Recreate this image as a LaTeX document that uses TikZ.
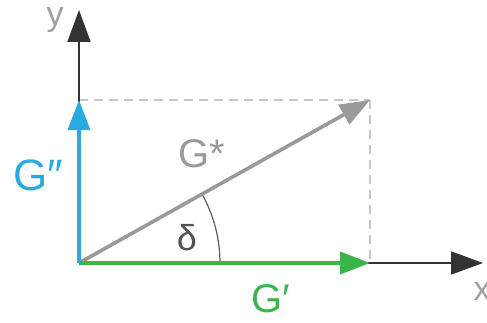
\documentclass[tikz,border=0pt]{standalone}
\usepackage{fontspec}
\setmainfont{Liberation Sans}
\usetikzlibrary{arrows.meta}
\definecolor{axisc}{HTML}{333333}
\definecolor{gblue}{HTML}{29ABE2}
\definecolor{ggreen}{HTML}{3AB54A}
\definecolor{ggray}{HTML}{9A9A9A}
\definecolor{dashc}{HTML}{C8C8C8}
\definecolor{lblgray}{HTML}{A0A0A0}
\tikzset{
  axisline/.style={draw=axisc, line width=1.8pt, -{Triangle[length=32pt,width=23pt]}},
  vec/.style={line width=3.6pt, -{Triangle[length=30pt,width=22pt]}},
  guide/.style={draw=dashc, line width=1.5pt, dash pattern=on 9pt off 6pt},
  biglabel/.style={inner sep=0pt, anchor=base, font=\fontsize{40}{48}\selectfont},
  axlabel/.style={inner sep=0pt, anchor=base, text=lblgray, font=\fontsize{34}{40}\selectfont},
}
\begin{document}
\begin{tikzpicture}[x=1pt,y=1pt]
\useasboundingbox (0,0) rectangle (487,322);
\coordinate (O) at (79,59);
\coordinate (Ytip) at (79,312);
\coordinate (Xtip) at (483,59);
\coordinate (Gs) at (370,222);
\coordinate (Gp) at (370,59);
\coordinate (Gpp) at (79,222);
% guides
\draw[guide] (Gpp) -- (Gs);
\draw[guide] (Gs) -- (Gp);
% axes
\draw[axisline] (O) -- (Ytip);
\draw[axisline] (O) -- (Xtip);
% angle arc
\draw[draw=axisc!80, line width=1.2pt] (O) ++(141,0) arc[start angle=0, end angle=29.25, radius=141];
% vectors
\draw[vec, draw=ggray, fill=ggray] (O) -- (Gs);
\draw[vec, draw=ggreen, fill=ggreen, line width=4pt] (O) -- (Gp);
\draw[vec, draw=gblue, fill=gblue, line width=3.3pt] (O) -- (Gpp);
% labels
\node[biglabel, text=gblue, font=\fontsize{44}{50}\selectfont] (lGpp) at (38,132) {G″};
\node[biglabel, text=ggray] (lGs) at (202,155) {G*};
\node[biglabel, text=ggreen] (lGp) at (271,10) {G′};
\node[inner sep=0pt, anchor=base, text=axisc!85, font=\fontsize{36}{40}\selectfont] (ldelta) at (187,72) {δ};
\node[axlabel] (ly) at (55,296) {y};
\node[axlabel] (lx) at (482,22) {x};
\end{tikzpicture}
\end{document}
